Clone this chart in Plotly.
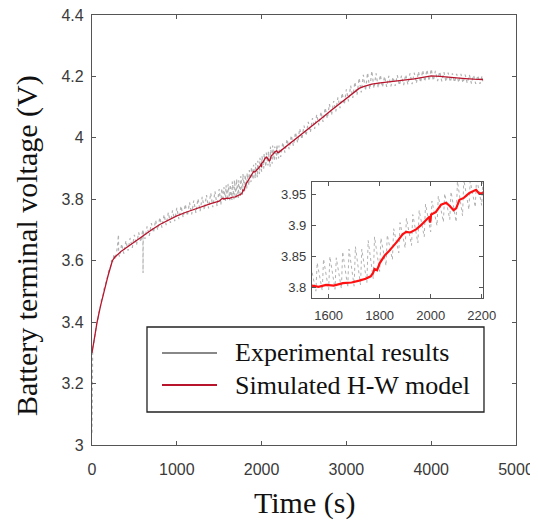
import plotly.graph_objects as go

# ---------------- data ----------------
series_names = ["Experimental results", "Simulated H-W model"]

exp_time = [0, 1, 8, 20, 30, 42, 55, 68, 80, 95, 110, 125, 140, 155, 170, 185, 200, 215, 230, 245, 260, 275,
            300, 312, 314, 325, 350, 375, 400, 425, 450, 475, 500, 525, 550, 575,
            600, 602, 604, 625, 650, 675, 700, 725, 750, 775, 800, 825, 850, 875,
            900, 925, 950, 975, 1000, 1025, 1050, 1075, 1100, 1125, 1150, 1175,
            1200, 1225, 1250, 1275, 1300, 1325, 1350, 1375, 1400, 1425, 1450, 1475, 1500, 1520,
            1530, 1550, 1555, 1575, 1580, 1600, 1605, 1625, 1630, 1650, 1655, 1675,
            1680, 1700, 1705, 1725, 1730, 1750, 1755, 1775, 1780, 1800, 1805, 1825,
            1830, 1850, 1855, 1875, 1880, 1900, 1905, 1925, 1930, 1950, 1955, 1975,
            1980, 2000, 2005, 2025, 2030, 2050, 2055, 2075, 2080, 2100, 2105, 2125,
            2130, 2150, 2155, 2175, 2180, 2200, 2205, 2225,
            2250, 2275, 2300, 2325, 2350, 2375, 2400, 2425, 2450, 2475, 2500, 2525,
            2550, 2575, 2600, 2625, 2650, 2675, 2700, 2725, 2750, 2775, 2800, 2825,
            2850, 2875, 2900, 2925, 2950, 2975, 3000, 3025, 3050, 3075, 3100, 3125,
            3150, 3175, 3200, 3225, 3250, 3275, 3300, 3325, 3350, 3375, 3400, 3425,
            3450, 3475, 3500, 3525, 3550, 3575, 3600, 3625, 3650, 3675, 3700, 3725,
            3750, 3775, 3800, 3825, 3850, 3875, 3900, 3925, 3950, 3975, 4000, 4025,
            4050, 4075, 4100, 4125, 4150, 4175, 4200, 4225, 4250, 4275, 4300, 4325,
            4350, 4375, 4400, 4425, 4450, 4475, 4500, 4525, 4550, 4575, 4600, 4610]

exp_voltage = [3.040, 3.290, 3.318, 3.330, 3.356, 3.368, 3.398, 3.405, 3.432, 3.440, 3.472, 3.478,
               3.508, 3.515, 3.540, 3.548, 3.572, 3.575, 3.600, 3.598, 3.622, 3.604,
               3.645, 3.685, 3.622, 3.613, 3.655, 3.623, 3.665, 3.633, 3.674, 3.642, 3.684, 3.651, 3.692, 3.661,
               3.702, 3.560, 3.695, 3.671, 3.712, 3.681, 3.722, 3.691, 3.732, 3.700, 3.741, 3.708, 3.750, 3.716,
               3.757, 3.723, 3.764, 3.729, 3.772, 3.735, 3.778, 3.741, 3.784, 3.746, 3.790, 3.751,
               3.796, 3.756, 3.802, 3.761, 3.808, 3.766, 3.814, 3.770, 3.820, 3.774, 3.826, 3.778, 3.833, 3.782,
               3.835, 3.794, 3.840, 3.795, 3.846, 3.796, 3.850, 3.797, 3.848, 3.798, 3.858, 3.800,
               3.862, 3.802, 3.866, 3.804, 3.862, 3.808, 3.876, 3.814, 3.882, 3.826, 3.880, 3.835,
               3.885, 3.845, 3.895, 3.856, 3.905, 3.864, 3.912, 3.868, 3.918, 3.872, 3.925, 3.882,
               3.935, 3.890, 3.940, 3.900, 3.948, 3.906, 3.952, 3.910, 3.955, 3.906, 3.972, 3.916,
               3.975, 3.926, 3.972, 3.930, 3.978, 3.933, 3.975, 3.938,
               3.985, 3.952, 3.996, 3.963, 4.008, 3.974, 4.018, 3.984, 4.030, 3.995, 4.040, 4.007,
               4.052, 4.018, 4.064, 4.029, 4.076, 4.041, 4.085, 4.052, 4.098, 4.063, 4.110, 4.074,
               4.120, 4.086, 4.132, 4.097, 4.146, 4.108, 4.158, 4.119, 4.170, 4.130, 4.182, 4.140,
               4.195, 4.148, 4.205, 4.154, 4.212, 4.158, 4.218, 4.161, 4.210, 4.163, 4.205, 4.165,
               4.200, 4.166, 4.202, 4.168, 4.198, 4.169, 4.204, 4.171, 4.203, 4.172, 4.206, 4.174,
               4.210, 4.175, 4.212, 4.178, 4.216, 4.180, 4.220, 4.183, 4.222, 4.185, 4.224, 4.186,
               4.218, 4.185, 4.216, 4.184, 4.214, 4.183, 4.212, 4.182, 4.210, 4.181, 4.208, 4.180,
               4.208, 4.179, 4.206, 4.178, 4.205, 4.177, 4.204, 4.176, 4.203, 4.176, 4.202, 4.178]

sim_time = [0, 30, 60, 100, 140, 190, 240, 270, 350, 400, 500, 600, 700, 800, 900, 1000,
            1100, 1200, 1300, 1400, 1500, 1536, 1560, 1590, 1620, 1656, 1690, 1720, 1745,
            1765, 1775, 1780, 1790, 1800, 1810, 1820, 1835, 1852, 1870, 1890, 1904, 1920,
            1943, 1960, 1983, 1996, 1998, 2002, 2020, 2041, 2061, 2075, 2090, 2100, 2113,
            2130, 2152, 2178, 2190, 2202, 2300, 2400, 2500, 2600, 2700, 2800, 2900, 3000,
            3100, 3150, 3200, 3300, 3400, 3500, 3600, 3700, 3800, 3900, 4000, 4100, 4200,
            4300, 4400, 4500, 4610]

sim_voltage = [3.300, 3.352, 3.400, 3.452, 3.500, 3.552, 3.600, 3.612, 3.632, 3.642, 3.660, 3.680,
               3.700, 3.718, 3.733, 3.746, 3.757, 3.767, 3.777, 3.786, 3.794, 3.803, 3.801, 3.804,
               3.803, 3.807, 3.808, 3.811, 3.814, 3.818, 3.824, 3.830, 3.828, 3.839, 3.846, 3.852,
               3.858, 3.866, 3.875, 3.886, 3.890, 3.889, 3.894, 3.900, 3.909, 3.915, 3.905, 3.918,
               3.922, 3.934, 3.937, 3.932, 3.925, 3.928, 3.942, 3.945, 3.953, 3.958, 3.952, 3.953,
               3.974, 3.995, 4.017, 4.040, 4.062, 4.085, 4.107, 4.130, 4.151, 4.161, 4.167, 4.175,
               4.179, 4.182, 4.185, 4.188, 4.192, 4.197, 4.202, 4.200, 4.197, 4.195, 4.193, 4.191,
               4.190]

main_xticks = [0, 1000, 2000, 3000, 4000, 5000]
main_yticks = [3, 3.2, 3.4, 3.6, 3.8, 4, 4.2, 4.4]
inset_xticks = [1600, 1800, 2000, 2200]
inset_yticks = [3.8, 3.85, 3.9, 3.95]
x_title = "Time (s)"
y_title = "Battery terminal voltage (V)"

# ---------------- styles ----------------
GRAY = "#b2b2b2"
RED_MAIN = "#b8142c"
RED_INSET = "#ff1010"
AX = "#555555"
TICKFONT = dict(family="Liberation Sans, Arial, sans-serif", size=16, color="#3a3a3a")
SERIF = "Liberation Serif, Times New Roman, serif"

fig = go.Figure()

fig.add_trace(go.Scatter(x=exp_time, y=exp_voltage, mode="lines", name=series_names[0],
                         line=dict(color=GRAY, width=1.2, dash="dot"), xaxis="x", yaxis="y",
                         showlegend=False))
fig.add_trace(go.Scatter(x=sim_time, y=sim_voltage, mode="lines", name=series_names[1],
                         line=dict(color=RED_MAIN, width=1.3), xaxis="x", yaxis="y",
                         showlegend=False))
fig.add_trace(go.Scatter(x=exp_time, y=exp_voltage, mode="lines", name=series_names[0],
                         line=dict(color=GRAY, width=1, dash="dot"), xaxis="x2", yaxis="y2",
                         showlegend=False))
fig.add_trace(go.Scatter(x=sim_time, y=sim_voltage, mode="lines", name=series_names[1],
                         line=dict(color=RED_INSET, width=2.2), xaxis="x2", yaxis="y2",
                         showlegend=False))

axis_common = dict(showline=True, linecolor=AX, linewidth=1.2, mirror="ticks", ticks="inside",
                   tickcolor=AX, ticklen=4, tickwidth=1, showgrid=False, zeroline=False,
                   ticklabeloverflow="allow", automargin=False)

# legend box geometry (paper coords)
lx0, lx1, ly0, ly1 = 0.1297, 0.9245, 0.0767, 0.2744
line_x0, line_x1 = 0.1651, 0.2948
row_y = [0.214, 0.1395]
text_x = 0.3325

shapes = [dict(type="rect", xref="paper", yref="paper", x0=lx0, x1=lx1, y0=ly0, y1=ly1,
               line=dict(color="#222222", width=1.3), fillcolor="white", layer="above")]
shapes.append(dict(type="line", xref="paper", yref="paper", x0=line_x0, x1=line_x1,
                   y0=row_y[0], y1=row_y[0], line=dict(color="#888888", width=2)))
shapes.append(dict(type="line", xref="paper", yref="paper", x0=line_x0, x1=line_x1,
                   y0=row_y[1], y1=row_y[1], line=dict(color=RED_MAIN, width=2)))

annotations = []
for name, yy in zip(series_names, row_y):
    annotations.append(dict(text=name, xref="paper", yref="paper", x=text_x, y=yy,
                            xanchor="left", yanchor="middle", showarrow=False,
                            font=dict(family=SERIF, size=26, color="#111111")))
annotations.append(dict(text=x_title, xref="paper", yref="paper", x=0.5, y=-0.135,
                        xanchor="center", yanchor="middle", showarrow=False,
                        font=dict(family=SERIF, size=30, color="#111111")))
annotations.append(dict(text=y_title, xref="paper", yref="paper", x=-0.153, y=0.463,
                        xanchor="center", yanchor="middle", showarrow=False, textangle=-90,
                        font=dict(family=SERIF, size=30, color="#111111")))

fig.update_layout(
    width=530, height=517,
    margin=dict(l=84, r=22, t=7, b=80),
    paper_bgcolor="white", plot_bgcolor="white",
    showlegend=False,
    xaxis=dict(range=[0, 5000], tickvals=main_xticks, tickfont=TICKFONT,
               ticklabelstandoff=10, domain=[0, 1], anchor="y", **axis_common),
    yaxis=dict(range=[3, 4.4], tickvals=main_yticks, tickfont=TICKFONT,
               ticklabelstandoff=4, domain=[0, 1], anchor="x", **axis_common),
    xaxis2=dict(range=[1535, 2205], tickvals=inset_xticks,
                tickfont=dict(TICKFONT, size=13), ticklabelstandoff=5,
                domain=[0.519, 0.922], anchor="y2", **axis_common),
    yaxis2=dict(range=[3.783, 3.971], tickvals=inset_yticks,
                tickfont=dict(TICKFONT, size=13), ticklabelstandoff=2,
                domain=[0.342, 0.612], anchor="x2", **axis_common),
    shapes=shapes,
    annotations=annotations,
)

fig.write_html("out.html")
